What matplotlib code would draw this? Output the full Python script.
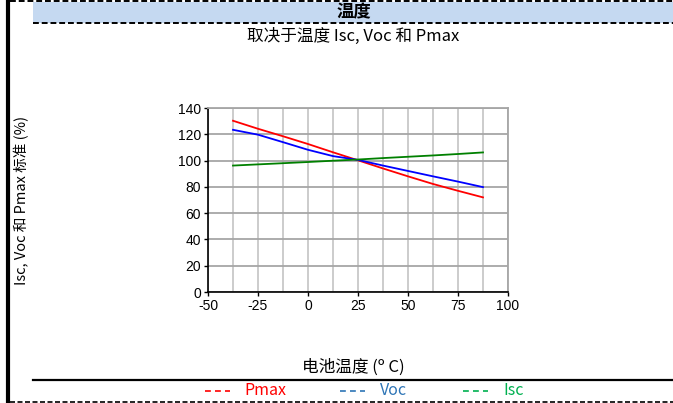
import matplotlib
matplotlib.use("Agg")
import matplotlib.pyplot as plt
from matplotlib.lines import Line2D
from matplotlib.patches import Rectangle
import matplotlib.ticker as mticker

# --- dati ---
temp = [-37.5, -25, -12.5, 0, 12.5, 25, 37.5, 50, 62.5, 75, 87.5]
pmax = [130.3, 124.2, 118.5, 112.6, 106.3, 100.2, 94.0, 88.0, 82.2, 77.0, 72.0]
voc = [123.4, 119.7, 114.0, 108.2, 103.4, 100.5, 96.2, 92.1, 88.0, 84.0, 79.8]
isc = [96.2, 97.1, 98.0, 98.9, 99.9, 100.8, 101.9, 102.9, 103.9, 105.0, 106.2]

x_ticks = [-50, -25, 0, 25, 50, 75, 100]
y_ticks = [0, 20, 40, 60, 80, 100, 120, 140]

CJK = ["Noto Sans CJK SC", "DejaVu Sans"]
W, H = 673, 403

plt.rcParams["axes.unicode_minus"] = False

fig = plt.figure(figsize=(W / 100, H / 100), dpi=100)
fig.patch.set_facecolor("white")


def fx(px):
    return px / W


def fy(py):
    return 1 - py / H


# --- cornice e fascia del titolo ---
fig.add_artist(Rectangle((fx(33), fy(22.5)), fx(640), 20.5 / H, transform=fig.transFigure,
                         facecolor="#C5D9F1", edgecolor="none"))
fig.add_artist(Line2D([fx(10), 1], [fy(0.8), fy(0.8)], transform=fig.transFigure,
                      color="black", lw=1.4, ls=(0, (3, 1.5))))
fig.add_artist(Line2D([fx(33), 1], [fy(22.8), fy(22.8)], transform=fig.transFigure,
                      color="black", lw=1.4, ls=(0, (3, 1.5))))
fig.add_artist(Line2D([fx(8), fx(8)], [0, 1], transform=fig.transFigure,
                      color="black", lw=3))
fig.add_artist(Line2D([fx(33), 1], [fy(380), fy(380)], transform=fig.transFigure,
                      color="black", lw=1.6))
fig.add_artist(Line2D([fx(10), 1], [fy(401.5), fy(401.5)], transform=fig.transFigure,
                      color="black", lw=1.2, ls=(0, (3, 1.5))))

fig.text(fx(354), fy(12), "温度", ha="center", va="center", fontsize=12.5,
         fontweight="bold", family=CJK)
fig.text(fx(353), fy(36), "取决于温度 Isc, Voc 和 Pmax", ha="center", va="center",
         fontsize=12, family=CJK)
fig.text(fx(353), fy(367), "电池温度 (º C)", ha="center", va="center",
         fontsize=12, family=CJK)
fig.text(fx(22), fy(200), "Isc, Voc 和 Pmax 标准 (%)", ha="center", va="center",
         rotation=90, fontsize=10.5, family=CJK)

# legenda: trattino + testo
legend_items = [("Pmax", "#FF0000", 205, 244),
                ("Voc", "#2E75B6", 340, 380),
                ("Isc", "#00B050", 463, 503)]
for name, col, x0, x1 in legend_items:
    fig.add_artist(Line2D([fx(x0), fx(x0 + 25)], [fy(391), fy(391)], transform=fig.transFigure,
                          color=col, lw=1.2, ls=(0, (3.5, 2.5))))
    fig.text(fx(x1), fy(390.5), name, ha="left", va="center", fontsize=11.5,
             color=col, family=CJK)

# --- grafico ---
ax = fig.add_axes([fx(208), fy(292), fx(300), (292 - 108) / H])
ax.plot(temp, pmax, color="#FF0000", lw=1.3, zorder=3)
ax.plot(temp, voc, color="#0000FF", lw=1.3, zorder=3)
ax.plot(temp, isc, color="#008000", lw=1.3, zorder=3)

ax.set_xlim(-50, 100)
ax.set_ylim(0, 140)
ax.set_xticks(x_ticks)
ax.set_yticks(y_ticks)
ax.xaxis.set_minor_locator(mticker.MultipleLocator(12.5))
ax.grid(True, which="major", axis="y", color="#A6A6A6", lw=1.3)
ax.grid(True, which="both", axis="x", color="#C8C8C8", lw=1.3)
ax.tick_params(which="minor", length=0)
ax.tick_params(which="major", length=3, width=1, labelsize=10, pad=2)
for lbl in ax.get_xticklabels() + ax.get_yticklabels():
    lbl.set_family("Liberation Sans")

for side in ["top", "right"]:
    ax.spines[side].set_color("#A6A6A6")
    ax.spines[side].set_linewidth(1.3)
for side in ["left", "bottom"]:
    ax.spines[side].set_color("black")
    ax.spines[side].set_linewidth(1.2)

fig.savefig("out.png", dpi=100, facecolor="white")
